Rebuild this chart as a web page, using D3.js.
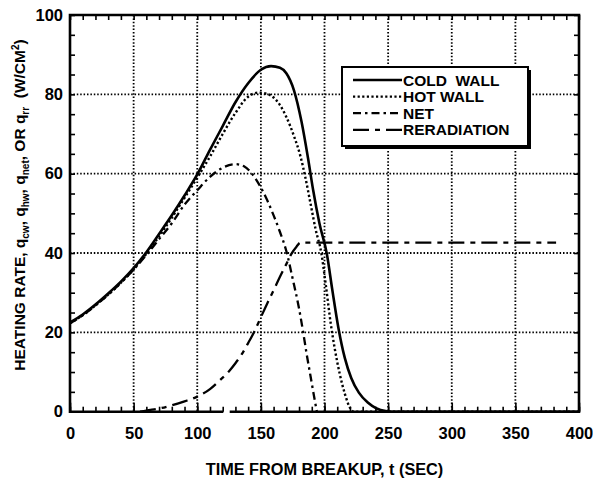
<!DOCTYPE html>
<html>
<head>
<meta charset="utf-8">
<script src="https://cdn.jsdelivr.net/npm/d3@7"></script>
<style>
  body { margin: 0; background: #fff; }
  svg { display: block; font-family: "Liberation Sans", Arial, sans-serif; font-weight: bold; }
</style>
</head>
<body>
<svg id="chart" width="593" height="484"></svg>
<script>
// Heating rate curves: [time (s), rate (W/cm^2)]
const coldWall = [
  [0, 22.5], [10, 24.5], [20, 27], [30, 29.8], [40, 32.8], [50, 36.2], [60, 40.2],
  [70, 44.8], [80, 49.5], [90, 54.5], [100, 59.8], [110, 66], [120, 72], [130, 78],
  [140, 82.8], [150, 86.2], [158, 87.1], [165, 86.7], [170, 85.3], [176, 81],
  [182, 73], [187, 64], [191, 56], [196, 47.5], [202, 39.5], [206, 31], [211, 21],
  [216, 13.5], [221, 8.5], [227, 4.8], [234, 2.3], [241, 0.8], [248, 0.15], [253, 0], [400, 0]
];
const hotWall = [
  [0, 22.3], [10, 24.3], [20, 26.8], [30, 29.5], [40, 32.5], [50, 35.9], [60, 39.8],
  [70, 44.2], [80, 48.9], [90, 53.9], [100, 59], [110, 64.3], [120, 70], [130, 75.3],
  [140, 79.4], [148, 80.4], [155, 80.1], [160, 79.2], [165, 77.3], [170, 74.3],
  [176, 69.5], [181, 64.5], [185, 59], [189, 52.5], [193, 46], [197.5, 40], [201, 32],
  [205, 22], [208, 16], [212, 9.5], [216, 4.5], [220, 1], [223, 0], [400, 0]
];
const netRate = [
  [0, 22.3], [10, 24.3], [20, 26.8], [30, 29.5], [40, 32.5], [50, 35.8], [60, 39.5],
  [70, 43.5], [80, 47.5], [90, 52.2], [100, 55.8], [110, 59.2], [120, 61.5], [130, 62.4],
  [137, 61.8], [143, 60], [150, 56.5], [155, 53.3], [160, 49.5], [165, 45.3], [170, 40.5],
  [175, 33.5], [180, 26], [183, 20.5], [186, 14.5], [189, 9], [192, 3.5], [194, 0]
];
const reradiation = [
  [55, 0], [60, 0.3], [70, 0.8], [80, 1.6], [90, 2.6], [100, 3.8], [110, 5.7], [118, 8],
  [125, 10.2], [130, 12.2], [135, 14.5], [140, 17.3], [145, 20.3], [150, 23.8], [155, 27.3],
  [160, 30.6], [165, 34], [170, 37.2], [174, 39.8], [178, 41.6], [181, 42.6], [382, 42.6]
];

// Axes ticks
const xLabels = [0, 50, 100, 150, 200, 250, 300, 350, 400];
const yLabels = [0, 20, 40, 60, 80, 100];
const xMinor = d3.range(0, 401, 10);
const yMinor = d3.range(0, 101, 5);

// Legend entries
const seriesNames = ["COLD  WALL", "HOT WALL", "NET", "RERADIATION"];
const seriesData = [coldWall, hotWall, netRate, reradiation];
const seriesDash = [null, "2.2,2.4", "8,4,2.5,4", "16,6,5,6"];
const seriesWidth = [2.6, 2.4, 2.3, 2.3];

// Layout
const plot = { left: 70, right: 579, top: 15, bottom: 411.7 };

const svg = d3.select("#chart");

const x = d3.scaleLinear().domain([0, 400]).range([plot.left, plot.right]);
const y = d3.scaleLinear().domain([0, 100]).range([plot.bottom, plot.top]);

// Dotted grid
const grid = svg.append("g")
  .attr("stroke", "#000")
  .attr("stroke-width", 1.8)
  .attr("stroke-dasharray", "1.5,1.9");

grid.selectAll("line.vx")
  .data(xLabels.slice(1, -1))
  .enter()
  .append("line")
  .attr("x1", (d) => x(d))
  .attr("x2", (d) => x(d))
  .attr("y1", plot.top)
  .attr("y2", plot.bottom);

grid.selectAll("line.hy")
  .data(yLabels.slice(1, -1))
  .enter()
  .append("line")
  .attr("x1", plot.left)
  .attr("x2", plot.right)
  .attr("y1", (d) => y(d))
  .attr("y2", (d) => y(d));

// Curves
const line = d3.line()
  .x((d) => x(d[0]))
  .y((d) => y(d[1]))
  .curve(d3.curveMonotoneX);

svg.append("g")
  .selectAll("path")
  .data(seriesData)
  .enter()
  .append("path")
  .attr("d", line)
  .attr("fill", "none")
  .attr("stroke", "#000")
  .attr("stroke-width", (d, i) => seriesWidth[i])
  .attr("stroke-dasharray", (d, i) => seriesDash[i])
  .attr("stroke-linecap", "butt");

// Minor / major tick marks on all four sides (pointing inward)
function tickAxis(axis, values, size, transform) {
  const g = svg.append("g")
    .attr("transform", transform)
    .call(axis.tickValues(values).tickSize(size).tickFormat(""));
  g.select(".domain").remove();
  g.selectAll(".tick line").attr("stroke", "#000").attr("stroke-width", 1.6);
  return g;
}
tickAxis(d3.axisBottom(x), xMinor, -5, `translate(0,${plot.bottom})`);
tickAxis(d3.axisTop(x), xMinor, -5, `translate(0,${plot.top})`);
tickAxis(d3.axisLeft(y), yMinor, -5, `translate(${plot.left},0)`);
tickAxis(d3.axisRight(y), yMinor, -5, `translate(${plot.right},0)`);
tickAxis(d3.axisBottom(x), xLabels, -9, `translate(0,${plot.bottom})`);

// Frame (bottom edge has a small break in the original print near t = 120-126)
const frame = svg.append("g")
  .attr("fill", "none")
  .attr("stroke", "#000")
  .attr("stroke-width", 2.6);
frame.append("path")
  .attr("d", `M${x(120.5)},${plot.bottom}H${plot.left}V${plot.top}H${plot.right}V${plot.bottom}H${x(125.5)}`);

// Tick labels
const xAxisLabels = svg.append("g")
  .attr("transform", `translate(0,${plot.bottom})`)
  .call(d3.axisBottom(x).tickValues(xLabels).tickSize(0).tickPadding(16).tickFormat(d3.format("d")));
xAxisLabels.select(".domain").remove();
xAxisLabels.selectAll("text")
  .attr("fill", "#000")
  .style("font-size", "16.5px")
  .style("font-family", "'Liberation Sans', Arial, sans-serif")
  .style("font-weight", "bold");

const yAxisLabels = svg.append("g")
  .attr("transform", `translate(${plot.left},0)`)
  .call(d3.axisLeft(y).tickValues(yLabels).tickSize(0).tickPadding(7).tickFormat(d3.format("d")));
yAxisLabels.select(".domain").remove();
yAxisLabels.selectAll("text")
  .attr("fill", "#000")
  .style("font-size", "16.5px")
  .style("font-family", "'Liberation Sans', Arial, sans-serif")
  .style("font-weight", "bold");

// Axis titles
svg.append("text")
  .attr("x", (plot.left + plot.right) / 2)
  .attr("y", 475)
  .attr("text-anchor", "middle")
  .style("font-size", "16.3px")
  .text("TIME FROM BREAKUP, t (SEC)");

const yTitle = svg.append("text")
  .attr("transform", "translate(25,205) rotate(-90)")
  .attr("text-anchor", "middle")
  .style("font-size", "15px")
  .style("white-space", "pre");

const yTitleParts = [
  ["HEATING RATE, q", 0], ["cw", 1], [", q", 0], ["hw", 1], [", q", 0], ["net", 1],
  [", OR q", 0], ["rr", 1], ["  (W/CM", 0], ["2", 2], [")", 0]
];
let shift = 0;
yTitleParts.forEach(([t, kind]) => {
  const target = kind === 1 ? 4 : kind === 2 ? -6 : 0;
  yTitle.append("tspan")
    .attr("dy", target - shift)
    .style("font-size", kind ? "10px" : "15.5px")
    .text(t);
  shift = target;
});

// Legend
const legend = svg.append("g").attr("transform", "translate(342,67)");
const legW = 186, legH = 79;
legend.append("rect")
  .attr("x", 3).attr("y", 3)
  .attr("width", legW).attr("height", legH)
  .attr("fill", "#000");
legend.append("rect")
  .attr("width", legW).attr("height", legH)
  .attr("fill", "#fff")
  .attr("stroke", "#000")
  .attr("stroke-width", 2);

const items = legend.selectAll("g.item")
  .data(seriesNames)
  .enter()
  .append("g")
  .attr("class", "item")
  .attr("transform", (d, i) => `translate(0,${13 + i * 16.6})`);

items.append("line")
  .attr("x1", 11).attr("x2", 60)
  .attr("y1", 0).attr("y2", 0)
  .attr("stroke", "#000")
  .attr("stroke-width", (d, i) => seriesWidth[i])
  .attr("stroke-dasharray", (d, i) => seriesDash[i]);

items.append("text")
  .attr("x", 61)
  .attr("y", 5.5)
  .style("font-size", "15.5px")
  .style("white-space", "pre")
  .text((d) => d);
</script>
</body>
</html>
